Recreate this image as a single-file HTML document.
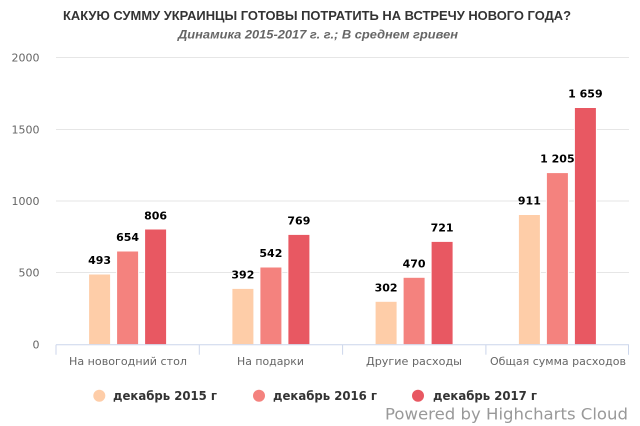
<!DOCTYPE html>
<html><head><meta charset="utf-8"><style>
html,body{margin:0;padding:0;background:#fff;}
svg{display:block;}
</style></head><body>
<svg width="640" height="426" viewBox="0 0 640 426" xmlns="http://www.w3.org/2000/svg">
<rect width="640" height="426" fill="#fff"/>
<text x="63" y="20" font-family="Liberation Sans, Arial, sans-serif" font-weight="bold" font-size="13" fill="#333" textLength="508" lengthAdjust="spacingAndGlyphs">КАКУЮ СУММУ УКРАИНЦЫ ГОТОВЫ ПОТРАТИТЬ НА ВСТРЕЧУ НОВОГО ГОДА?</text>
<text x="178" y="38.5" font-family="Liberation Sans, Arial, sans-serif" font-weight="bold" font-style="italic" font-size="12" fill="#666" textLength="280" lengthAdjust="spacingAndGlyphs">Динамика 2015-2017 г. г.; В среднем гривен</text>
<g stroke="#e6e6e6" stroke-width="1">
<line x1="56" y1="57.5" x2="629" y2="57.5"/>
<line x1="56" y1="129.5" x2="629" y2="129.5"/>
<line x1="56" y1="201" x2="629" y2="201"/>
<line x1="56" y1="272.5" x2="629" y2="272.5"/>
</g>
<g font-family="DejaVu Sans, sans-serif" font-size="11" fill="#666" text-anchor="end">
<text x="39.5" y="61.5">2000</text>
<text x="39.5" y="133.5">1500</text>
<text x="39.5" y="205">1000</text>
<text x="39.5" y="276.5">500</text>
<text x="39.5" y="348.5">0</text>
</g>
<g stroke="#fff" stroke-width="1">
<rect x="88.6" y="274" width="22" height="70.7" fill="#FECDA8"/>
<rect x="116.6" y="251" width="22" height="93.7" fill="#F4827E"/>
<rect x="144.6" y="229" width="22" height="115.7" fill="#E85862"/>
<rect x="231.9" y="288.4" width="22" height="56.3" fill="#FECDA8"/>
<rect x="259.9" y="267" width="22" height="77.7" fill="#F4827E"/>
<rect x="287.9" y="234.4" width="22" height="110.3" fill="#E85862"/>
<rect x="375.1" y="301.3" width="22" height="43.4" fill="#FECDA8"/>
<rect x="403.1" y="277.3" width="22" height="67.4" fill="#F4827E"/>
<rect x="431.1" y="241.4" width="22" height="103.3" fill="#E85862"/>
<rect x="518.4" y="214.5" width="22" height="130.2" fill="#FECDA8"/>
<rect x="546.4" y="172.6" width="22" height="172.1" fill="#F4827E"/>
<rect x="574.4" y="107.5" width="22" height="237.2" fill="#E85862"/>
</g>
<g font-family="DejaVu Sans, sans-serif" font-weight="bold" font-size="11" fill="#000" text-anchor="middle">
<text x="99.6" y="264">493</text>
<text x="127.6" y="241">654</text>
<text x="155.6" y="219.5">806</text>
<text x="242.9" y="278.4">392</text>
<text x="270.9" y="257">542</text>
<text x="298.9" y="224.5">769</text>
<text x="386.1" y="291.3">302</text>
<text x="414.1" y="267.3">470</text>
<text x="442.1" y="231.6">721</text>
<text x="529.4" y="204.5">911</text>
<text x="557.4" y="162.6">1 205</text>
<text x="585.4" y="97.5">1 659</text>
</g>
<g stroke="#ccd6eb" stroke-width="1">
<line x1="56" y1="344.7" x2="629" y2="344.7"/>
<line x1="56" y1="344.7" x2="56" y2="354.7"/>
<line x1="199.3" y1="344.7" x2="199.3" y2="354.7"/>
<line x1="342.6" y1="344.7" x2="342.6" y2="354.7"/>
<line x1="485.9" y1="344.7" x2="485.9" y2="354.7"/>
<line x1="628.5" y1="344.7" x2="628.5" y2="354.7"/>
</g>
<g font-family="DejaVu Sans, sans-serif" font-size="11" fill="#666">
<text x="69" y="365" textLength="118" lengthAdjust="spacingAndGlyphs">На новогодний стол</text>
<text x="237" y="365" textLength="67" lengthAdjust="spacingAndGlyphs">На подарки</text>
<text x="366" y="365" textLength="96" lengthAdjust="spacingAndGlyphs">Другие расходы</text>
<text x="490" y="365" textLength="136" lengthAdjust="spacingAndGlyphs">Общая сумма расходов</text>
</g>
<circle cx="99.3" cy="395.7" r="6" fill="#FECDA8"/>
<circle cx="259" cy="395.7" r="6" fill="#F4827E"/>
<circle cx="418" cy="395.7" r="6" fill="#E85862"/>
<g font-family="DejaVu Sans, sans-serif" font-weight="bold" font-size="12" fill="#333">
<text x="113" y="400" textLength="104" lengthAdjust="spacingAndGlyphs">декабрь 2015 г</text>
<text x="273" y="400" textLength="104" lengthAdjust="spacingAndGlyphs">декабрь 2016 г</text>
<text x="433" y="400" textLength="104" lengthAdjust="spacingAndGlyphs">декабрь 2017 г</text>
</g>
<text x="385" y="419.5" font-family="DejaVu Sans, sans-serif" font-size="16" fill="#999" textLength="243" lengthAdjust="spacingAndGlyphs">Powered by Highcharts Cloud</text>
</svg>
</body></html>
